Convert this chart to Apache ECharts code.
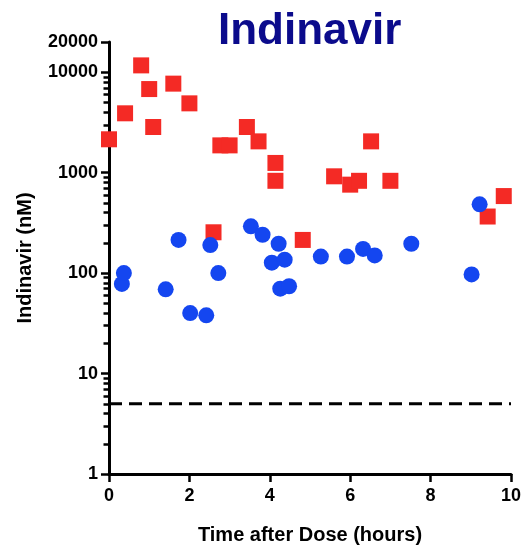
<!DOCTYPE html>
<html>
<head>
<meta charset="utf-8">
<script src="https://cdn.jsdelivr.net/npm/echarts@6/dist/echarts.min.js"></script>
<style>
html,body{margin:0;padding:0;background:#fff;}
#chart{width:524px;height:550px;}
</style>
</head>
<body>
<div id="chart"></div>
<script>
// Red squares
const redX = [0, 0.4, 0.8, 1.0, 1.1, 1.6, 2.0, 2.6, 2.77, 3.0, 3.43, 3.72, 4.14, 4.14, 4.82, 5.6, 6.0, 6.22, 6.52, 7.0, 9.42, 9.82];
const redY = [2150, 3900, 11700, 6800, 2850, 7700, 4900, 255, 1870, 1870, 2850, 2050, 1250, 830, 214, 920, 760, 830, 2050, 830, 366, 585];
// Blue circles
const blueX = [0.32, 0.37, 1.41, 1.73, 2.02, 2.42, 2.52, 2.72, 3.53, 3.82, 4.05, 4.22, 4.26, 4.37, 4.48, 5.27, 5.92, 6.32, 6.61, 7.52, 9.02, 9.22];
const blueY = [78, 100, 69, 214, 40, 38, 190, 100, 292, 241, 127, 196, 70, 136, 74, 146, 146, 174, 150, 196, 97, 484];
// Dashed reference level
const limitX = [0, 10];
const limitY = [5, 5];
// Axis ticks
const yMajorTicks = [1, 10, 100, 1000, 10000, 20000];
const yMinorTicks = [2,3,4,5,6,7,8,9,20,30,40,50,60,70,80,90,200,300,400,500,600,700,800,900,2000,3000,4000,5000,6000,7000,8000,9000];
const xTicks = [0, 2, 4, 6, 8, 10];

const zip = (a, b) => a.map((v, i) => [v, b[i]]);
const font = "'Liberation Sans', Arial, Helvetica, sans-serif";

const chart = echarts.init(document.getElementById('chart'), null, {renderer: 'canvas'});
chart.setOption({
  animation: false,
  backgroundColor: '#ffffff',
  title: {
    text: 'Indinavir',
    left: 213,
    top: 5,
    textStyle: {fontFamily: font, fontSize: 44, fontWeight: 'bold', color: '#0b0b8c'}
  },
  grid: {left: 109, right: 13, top: 42, bottom: 73, containLabel: false},
  xAxis: {
    type: 'value',
    min: xTicks[0],
    max: xTicks[xTicks.length - 1],
    interval: 2,
    name: 'Time after Dose (hours)',
    nameLocation: 'middle',
    nameGap: 51,
    nameTextStyle: {fontFamily: font, fontSize: 20, fontWeight: 'bold', color: '#000'},
    axisLine: {show: true, onZero: false, lineStyle: {color: '#000', width: 3}},
    axisTick: {show: true, length: 8, lineStyle: {color: '#000', width: 2.5}},
    axisLabel: {fontFamily: font, fontSize: 18, fontWeight: 'bold', color: '#000', margin: 13},
    splitLine: {show: false}
  },
  yAxis: [{
    type: 'log',
    logBase: 10,
    min: 1,
    max: 20000,
    name: 'Indinavir (nM)',
    nameLocation: 'middle',
    nameGap: 74,
    nameTextStyle: {fontFamily: font, fontSize: 20, fontWeight: 'bold', color: '#000'},
    axisLine: {show: true, onZero: false, lineStyle: {color: '#000', width: 3}},
    axisTick: {show: true, length: 8, customValues: yMajorTicks, lineStyle: {color: '#000', width: 2.5}},
    axisLabel: {fontFamily: font, fontSize: 18, fontWeight: 'bold', color: '#000', margin: 11,
      customValues: yMajorTicks, formatter: v => String(Math.round(v))},
    splitLine: {show: false}
  }, {
    type: 'log',
    logBase: 10,
    min: 1,
    max: 20000,
    position: 'left',
    axisLine: {show: false},
    axisTick: {show: true, length: 5.5, customValues: yMinorTicks, lineStyle: {color: '#000', width: 2.5}},
    axisLabel: {show: false},
    splitLine: {show: false}
  }],
  series: [{
    type: 'line',
    data: zip(limitX, limitY),
    symbol: 'none',
    silent: true,
    lineStyle: {color: '#000', width: 3, type: [13, 7]},
    z: 1
  }, {
    type: 'scatter',
    data: zip(redX, redY),
    symbol: 'rect',
    symbolSize: 16,
    clip: false,
    itemStyle: {color: '#f42a25', opacity: 1},
    z: 2
  }, {
    type: 'scatter',
    data: zip(blueX, blueY),
    symbol: 'circle',
    symbolSize: 16,
    clip: false,
    itemStyle: {color: '#1446f0', opacity: 1},
    z: 3
  }]
});
</script>
</body>
</html>
